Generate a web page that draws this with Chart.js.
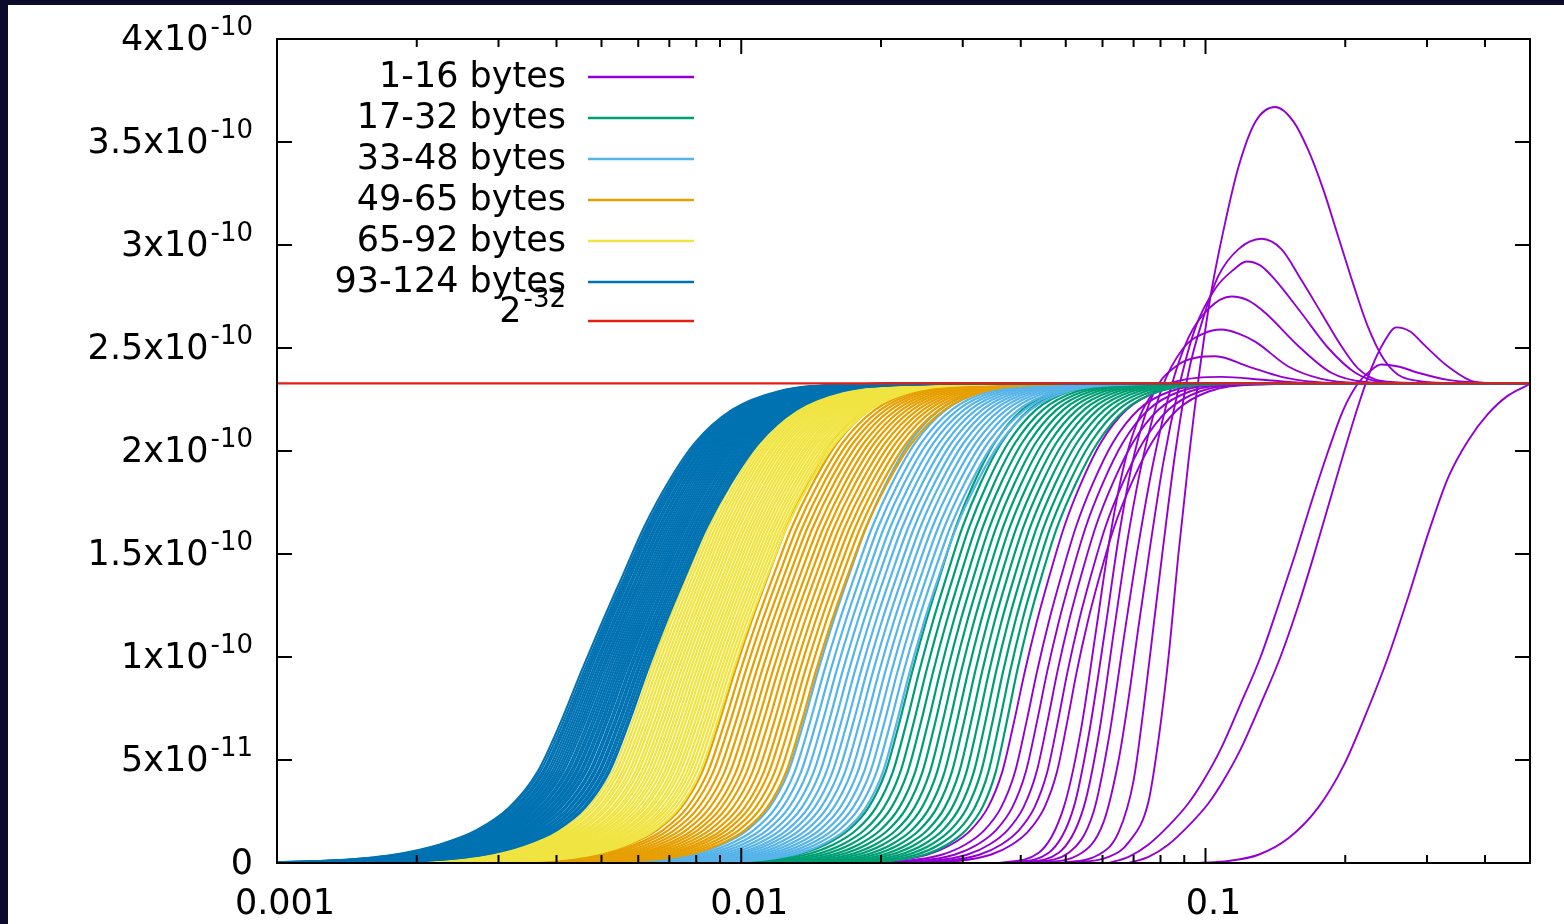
<!DOCTYPE html>
<html>
<head>
<meta charset="utf-8">
<title>Undetected error probability by message length</title>
<script src="https://cdn.jsdelivr.net/npm/chart.js@4.4.1/dist/chart.umd.min.js"></script>
<style>
  html, body { margin: 0; padding: 0; width: 1564px; height: 924px; overflow: hidden; background: #0b0b2b; }
  #frame { position: absolute; left: 8px; top: 5px; width: 1556px; height: 919px; background: #ffffff; }
  canvas { display: block; }
</style>
</head>
<body>
<div id="frame"><canvas id="crcChart" width="1556" height="919"></canvas></div>
<script>
// legend
const groupLabels = ['1-16 bytes', '17-32 bytes', '33-48 bytes', '49-65 bytes', '65-92 bytes', '93-124 bytes'];
const groupColors = ['#9400d3', '#009e73', '#56b4e9', '#e69f00', '#f0e442', '#0072b2'];
const limitLabel = ['2', '-32'];
const limitColor = '#e51e10';
const limitValue = 2.3283; // x1e-10

// axes
const yUnit = 1e-10;
const yTicks = [0, 0.5, 1, 1.5, 2, 2.5, 3, 3.5, 4];
const yTickLabels = [['0', ''], ['5x10', '-11'], ['1x10', '-10'], ['1.5x10', '-10'], ['2x10', '-10'],
                     ['2.5x10', '-10'], ['3x10', '-10'], ['3.5x10', '-10'], ['4x10', '-10']];
const xMajorTicks = [0.001, 0.01, 0.1];
const xTickLabels = ['0.001', '0.01', '0.1'];
const xMinorTicks = [0.002, 0.003, 0.004, 0.005, 0.006, 0.007, 0.008, 0.009,
                     0.02, 0.03, 0.04, 0.05, 0.06, 0.07, 0.08, 0.09, 0.2, 0.3, 0.4];

// rise of the 124-byte curve: offset (decades) from its half-way point -> y (x1e-10)
const riseOffsets = [-1.1, -0.8, -0.6, -0.45, -0.35, -0.27, -0.2, -0.14, -0.09, -0.045, 0, 0.045, 0.09, 0.14, 0.2, 0.28, 0.38, 0.52, 0.75, 2.5];
const riseValues  = [0, 0.002, 0.01, 0.04, 0.09, 0.16, 0.27, 0.44, 0.68, 0.93, 1.17, 1.40, 1.63, 1.84, 2.04, 2.20, 2.29, 2.322, 2.328, 2.328];

// every curve of a band: half-way point (x) and how much steeper its foot is than the 124-byte curve
const blueHalf = [0.00502, 0.00508, 0.00513, 0.00518, 0.00523, 0.00529, 0.00534, 0.00540, 0.00545, 0.00551, 0.00556,
                  0.00562, 0.00568, 0.00574, 0.00580, 0.00586, 0.00592, 0.00598, 0.00604, 0.00610, 0.00616, 0.00622,
                  0.00629, 0.00635, 0.00642, 0.00648, 0.00655, 0.00661, 0.00668, 0.00675, 0.00682, 0.00689];
const blueSteep = [1.00, 1.00, 1.01, 1.01, 1.02, 1.02, 1.03, 1.03, 1.04, 1.04, 1.05, 1.05, 1.06, 1.06, 1.07, 1.07,
                   1.08, 1.08, 1.09, 1.09, 1.10, 1.10, 1.11, 1.11, 1.12, 1.12, 1.13, 1.13, 1.14, 1.14, 1.15, 1.15];
const yellowHalf = [0.00697, 0.00707, 0.00718, 0.00729, 0.00740, 0.00751, 0.00762, 0.00774, 0.00785, 0.00797,
                    0.00809, 0.00821, 0.00834, 0.00846, 0.00859, 0.00872, 0.00885, 0.00898, 0.00912, 0.00925,
                    0.00939, 0.00953, 0.00968, 0.00982, 0.00997, 0.01012, 0.01027, 0.01043];
const yellowSteep = [1.16, 1.17, 1.17, 1.18, 1.18, 1.19, 1.19, 1.20, 1.20, 1.21, 1.21, 1.22, 1.22, 1.23,
                     1.23, 1.24, 1.25, 1.25, 1.26, 1.26, 1.27, 1.27, 1.28, 1.29, 1.29, 1.30, 1.31, 1.32];
const orangeHalf = [0.01051, 0.01079, 0.01108, 0.01138, 0.01168, 0.01199, 0.01232, 0.01265,
                    0.01298, 0.01333, 0.01369, 0.01406, 0.01443, 0.01482, 0.01522, 0.01563];
const orangeSteep = [1.33, 1.34, 1.34, 1.35, 1.36, 1.37, 1.38, 1.38, 1.39, 1.40, 1.41, 1.42, 1.42, 1.43, 1.44, 1.45];
const lightBlueHalf = [0.01577, 0.01625, 0.01675, 0.01726, 0.01779, 0.01833, 0.01889, 0.01947,
                       0.02006, 0.02067, 0.02130, 0.02195, 0.02262, 0.02331, 0.02402, 0.02475];
const lightBlueSteep = [1.46, 1.47, 1.48, 1.49, 1.50, 1.51, 1.52, 1.52, 1.53, 1.54, 1.55, 1.56, 1.57, 1.58, 1.59, 1.60];
const greenHalf = [0.02499, 0.02585, 0.02674, 0.02767, 0.02863, 0.02962, 0.03064, 0.03170,
                   0.03280, 0.03394, 0.03511, 0.03633, 0.03758, 0.03889, 0.04023, 0.04162];
const greenSteep = [1.62, 1.64, 1.67, 1.69, 1.72, 1.74, 1.77, 1.79, 1.82, 1.84, 1.87, 1.89, 1.92, 1.94, 1.97, 2.00];
const purpleHalf = [0.04331, 0.04596, 0.04829, 0.05075, 0.05332, 0.05575];
const purpleSteep = [1.90, 1.95, 2.00, 2.05, 2.10, 2.15];
// how much sooner each band settles onto 2^-32 (blue, yellow, orange, light blue, green, purple)
const bandUpper = [1.0, 1.08, 1.15, 1.22, 1.35, 1.45];

// the short messages that overshoot, read point by point: [x, y x1e-10]
const purpleCurves = [
  [[0.03588, 0], [0.04374, 0.05], [0.0495, 0.27], [0.05385, 0.64], [0.05829, 1.15], [0.06247, 1.6], [0.06762, 1.98],
   [0.0754, 2.25], [0.08744, 2.34], [0.1082, 2.36], [0.1346, 2.345], [0.1665, 2.33], [0.2133, 2.328], [0.5, 2.328]],
  [[0.0377, 0], [0.04596, 0.05], [0.05202, 0.27], [0.05603, 0.62], [0.06094, 1.15], [0.065, 1.58], [0.07, 1.97],
   [0.07728, 2.28], [0.08744, 2.42], [0.09659, 2.455], [0.1051, 2.46], [0.1238, 2.41], [0.1457, 2.36], [0.1724, 2.335],
   [0.2133, 2.328], [0.5, 2.328]],
  [[0.03961, 0], [0.04829, 0.05], [0.05465, 0.27], [0.05887, 0.62], [0.06372, 1.15], [0.06829, 1.6], [0.07356, 1.98],
   [0.0804, 2.3], [0.08964, 2.5], [0.09901, 2.57], [0.1082, 2.59], [0.1178, 2.57], [0.1282, 2.53], [0.1508, 2.41],
   [0.1776, 2.35], [0.2133, 2.33], [0.26, 2.328], [0.5, 2.328]],
  [[0.04163, 0], [0.05075, 0.05], [0.05743, 0.25], [0.06185, 0.6], [0.06729, 1.15], [0.07176, 1.55], [0.07728, 1.95],
   [0.08407, 2.3], [0.09189, 2.55], [0.1015, 2.69], [0.1137, 2.75], [0.1238, 2.73], [0.1346, 2.67], [0.1585, 2.51],
   [0.1866, 2.38], [0.2208, 2.335], [0.2732, 2.328], [0.5, 2.328]],
  [[0.04374, 0], [0.05332, 0.04], [0.06034, 0.2], [0.065, 0.5], [0.06829, 0.8], [0.07176, 1.15], [0.07615, 1.55],
   [0.0812, 1.95], [0.08744, 2.3], [0.09517, 2.6], [0.1051, 2.79], [0.1149, 2.88], [0.1226, 2.92], [0.1314, 2.9],
   [0.1414, 2.83], [0.1609, 2.67], [0.1838, 2.5], [0.2102, 2.38], [0.239, 2.335], [0.2871, 2.328], [0.5, 2.328]],
  [[0.04829, 0], [0.05887, 0.04], [0.065, 0.15], [0.07, 0.4], [0.07356, 0.75], [0.07728, 1.15], [0.0812, 1.55],
   [0.08617, 2.0], [0.09189, 2.38], [0.09901, 2.65], [0.1066, 2.85], [0.1178, 2.98], [0.132, 3.03], [0.1457, 2.98],
   [0.1609, 2.83], [0.1776, 2.67], [0.1961, 2.51], [0.2133, 2.4], [0.239, 2.34], [0.2871, 2.33], [0.3864, 2.328], [0.5, 2.328]],
  [[0.05075, 0], [0.06185, 0.03], [0.06829, 0.1], [0.0754, 0.3], [0.07922, 0.6], [0.08324, 1.0], [0.08744, 1.5],
   [0.09189, 1.95], [0.09659, 2.35], [0.1025, 2.75], [0.1093, 3.07], [0.1178, 3.38], [0.1282, 3.6], [0.1414, 3.67],
   [0.1546, 3.6], [0.1665, 3.46], [0.1793, 3.27], [0.1932, 3.04], [0.2081, 2.81], [0.2241, 2.6], [0.2414, 2.45],
   [0.26, 2.37], [0.2871, 2.34], [0.333, 2.33], [0.4267, 2.328], [0.5, 2.328]],
  [[0.06185, 0], [0.06829, 0.03], [0.0754, 0.09], [0.08324, 0.18], [0.09189, 0.29], [0.09901, 0.40], [0.1077, 0.55],
   [0.1189, 0.77], [0.1314, 1.0], [0.1435, 1.25], [0.1561, 1.5], [0.169, 1.75], [0.1838, 2.0], [0.1981, 2.2],
   [0.2133, 2.33], [0.2241, 2.38], [0.239, 2.42], [0.26, 2.41], [0.2871, 2.38], [0.333, 2.345], [0.3864, 2.332],
   [0.4711, 2.328], [0.5, 2.328]],
  [[0.06829, 0], [0.0754, 0.03], [0.08324, 0.09], [0.09189, 0.18], [0.1015, 0.29], [0.1093, 0.40], [0.1189, 0.55],
   [0.1314, 0.77], [0.145, 1.0], [0.1585, 1.25], [0.1715, 1.5], [0.1848, 1.75], [0.1991, 2.0], [0.2133, 2.22],
   [0.2275, 2.4], [0.2426, 2.53], [0.2574, 2.6], [0.276, 2.58], [0.2943, 2.52], [0.333, 2.41], [0.3807, 2.335],
   [0.4267, 2.328], [0.5, 2.328]],
  [[0.09659, 0], [0.1121, 0.01], [0.13, 0.04], [0.1508, 0.12], [0.175, 0.27], [0.1981, 0.47], [0.2241, 0.75],
   [0.2474, 1.0], [0.2732, 1.29], [0.3018, 1.6], [0.333, 1.87], [0.3677, 2.05], [0.406, 2.18], [0.449, 2.27], [0.5, 2.325]]
];

const FONT = '"DejaVu Sans", "Liberation Sans", sans-serif';

// foot steepness applies below the half-way point, shoulder steepness above, blended smoothly across it
function footShare(o) {
  if (o <= -0.2) return 1;
  if (o >= 0.2) return 0;
  const t = (0.2 - o) / 0.4;
  return t * t * (3 - 2 * t);
}
function bandCurve(half, steep, upper) {
  return riseOffsets.map((o, i) => ({
    x: half * Math.pow(10, o / (upper + (steep - upper) * footShare(o))),
    y: riseValues[i] * yUnit
  }));
}
function pointCurve(pts) {
  return pts.map(p => ({ x: p[0], y: p[1] * yUnit }));
}
function lineSet(data, color, width) {
  return {
    data: data,
    borderColor: color,
    borderWidth: width,
    pointRadius: 0,
    fill: false,
    cubicInterpolationMode: 'monotone'
  };
}

// first dataset ends up on top
const datasets = [lineSet([{ x: 0.001, y: limitValue * yUnit }, { x: 0.5, y: limitValue * yUnit }], limitColor, 2.4)];
const bands = [
  [blueHalf, blueSteep, bandUpper[0], groupColors[5]],
  [yellowHalf, yellowSteep, bandUpper[1], groupColors[4]],
  [orangeHalf, orangeSteep, bandUpper[2], groupColors[3]],
  [lightBlueHalf, lightBlueSteep, bandUpper[3], groupColors[2]],
  [greenHalf, greenSteep, bandUpper[4], groupColors[1]],
  [purpleHalf, purpleSteep, bandUpper[5], groupColors[0]]
];
bands.forEach(([halves, steeps, upper, color]) => {
  halves.forEach((h, i) => datasets.push(lineSet(bandCurve(h, steeps[i], upper), color, color === groupColors[0] ? 1.9 : 2.2)));
});
purpleCurves.forEach(c => datasets.push(lineSet(pointCurve(c), groupColors[0], 1.9)));

// text with a raised exponent
function powerText(ctx, base, sup, xr, ym, align) {
  ctx.font = '35px ' + FONT;
  const wb = ctx.measureText(base).width;
  ctx.font = '26px ' + FONT;
  const ws = sup ? ctx.measureText(sup).width + 2 : 0;
  const x0 = align === 'center' ? xr - (wb + ws) / 2 : xr - wb - ws;
  ctx.textAlign = 'left';
  ctx.textBaseline = 'middle';
  ctx.font = '35px ' + FONT;
  ctx.fillText(base, x0, ym);
  if (sup) {
    ctx.font = '26px ' + FONT;
    ctx.fillText(sup, x0 + wb + 2, ym - 13);
  }
}

const gnuplotFrame = {
  id: 'gnuplotFrame',
  afterDatasetsDraw(chart) {
    const { ctx, chartArea: a, scales: { x, y } } = chart;
    ctx.save();
    ctx.strokeStyle = '#000';
    ctx.fillStyle = '#000';
    ctx.lineWidth = 2;
    ctx.strokeRect(a.left, a.top, a.right - a.left, a.bottom - a.top);

    ctx.beginPath();
    yTicks.forEach(v => {
      const py = y.getPixelForValue(v * yUnit);
      ctx.moveTo(a.left, py); ctx.lineTo(a.left + 15, py);
      ctx.moveTo(a.right, py); ctx.lineTo(a.right - 15, py);
    });
    xMajorTicks.forEach(v => {
      const px = x.getPixelForValue(v);
      ctx.moveTo(px, a.bottom); ctx.lineTo(px, a.bottom - 15);
      ctx.moveTo(px, a.top); ctx.lineTo(px, a.top + 15);
    });
    xMinorTicks.forEach(v => {
      const px = x.getPixelForValue(v);
      ctx.moveTo(px, a.bottom); ctx.lineTo(px, a.bottom - 8);
      ctx.moveTo(px, a.top); ctx.lineTo(px, a.top + 8);
    });
    ctx.stroke();

    yTicks.forEach((v, i) => {
      const py = y.getPixelForValue(v * yUnit);
      powerText(ctx, yTickLabels[i][0], yTickLabels[i][1], a.left - 24, py + 2, 'right');
    });
    xMajorTicks.forEach((v, i) => {
      powerText(ctx, xTickLabels[i], '', x.getPixelForValue(v) + 8, a.bottom + 42, 'center');
    });

    // key
    const rows = groupLabels.map((t, i) => [t, '', groupColors[i]]);
    rows.push([limitLabel[0], limitLabel[1], limitColor]);
    rows.forEach((r, i) => {
      const ry = a.top + 38 + 41 * i - (i === 6 ? 2 : 0);
      ctx.fillStyle = '#000';
      powerText(ctx, r[0], r[1], a.left + 289, r[1] ? ry - 8 : ry + 1, 'right');
      ctx.strokeStyle = r[2];
      ctx.lineWidth = 2.5;
      ctx.beginPath();
      ctx.moveTo(a.left + 311, ry);
      ctx.lineTo(a.left + 417, ry);
      ctx.stroke();
    });
    ctx.restore();
  }
};

new Chart(document.getElementById('crcChart'), {
  type: 'line',
  data: { datasets: datasets },
  options: {
    responsive: false,
    animation: false,
    events: [],
    layout: { padding: { left: 269, right: 34, top: 34, bottom: 61 } },
    scales: {
      x: { type: 'logarithmic', min: 0.001, max: 0.5, display: false },
      y: { type: 'linear', min: 0, max: 4 * yUnit, display: false }
    },
    plugins: { legend: { display: false }, tooltip: { enabled: false } }
  },
  plugins: [gnuplotFrame]
});
</script>
</body>
</html>
